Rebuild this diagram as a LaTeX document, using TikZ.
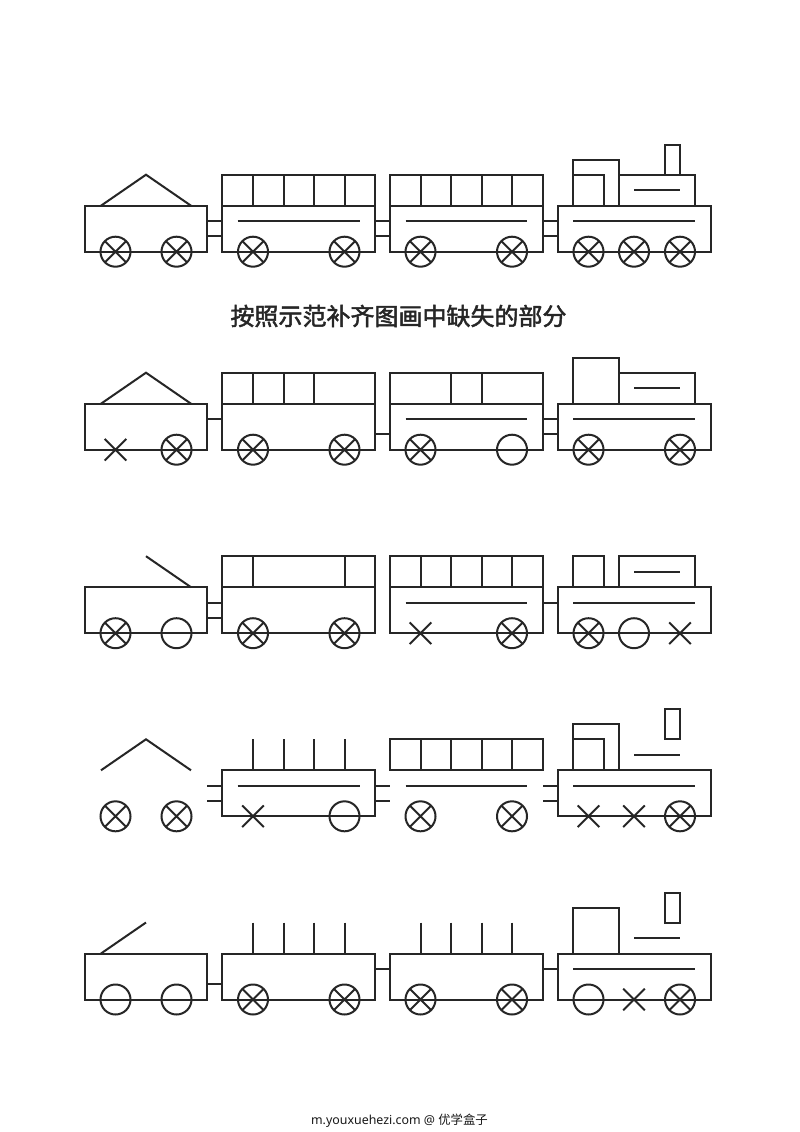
\documentclass[tikz,border=0pt]{standalone}
\usepackage{fontspec}
\setmainfont{Noto Sans}
\newfontfamily\cjk{Noto Sans CJK SC}
\newfontfamily\cjkt[FakeBold=2]{Noto Sans CJK SC}
\tikzset{
  ink/.style={draw=black!85,line width=2pt,line join=miter},
  rim/.style={draw=black!85,line width=2pt},
  titletext/.style={text=black!85,inner sep=0pt,font=\cjkt\fontsize{24}{26}\selectfont},
  foottext/.style={text=black!90,inner sep=0pt,font=\fontsize{12.4}{14}\selectfont}
}
% wheels: ring with cross, empty ring, bare cross (centre on the body's lower edge)
\newcommand{\wheelX}[1]{\draw[rim] (#1-10.8,35.2) -- (#1+10.8,56.8) (#1-10.8,56.8) -- (#1+10.8,35.2);}
\newcommand{\wheelO}[1]{\draw[rim] (#1,46) circle[radius=15];}
\newcommand{\wheelB}[1]{\wheelO{#1}\wheelX{#1}}
% body box, top row box, sticks
\newcommand{\body}[2]{\draw[ink] (#1,0) rectangle (#2,46);}
\newcommand{\toprow}[2]{\draw[ink] (#1,-31) rectangle (#2,0);}
\newcommand{\stick}[1]{\draw[ink] (#1,-31) -- (#1,0);}
\newcommand{\upperlink}[2]{\draw[ink] (#1,15.3) -- (#2,15.3);}
\newcommand{\lowerlink}[2]{\draw[ink] (#1,30.6) -- (#2,30.6);}
\newcommand{\bothlinks}[2]{\upperlink{#1}{#2}\lowerlink{#1}{#2}}
% locomotive parts
\newcommand{\locobody}{\draw[ink] (557.5,0) rectangle (711,46); \draw[ink] (573,15.3) -- (695,15.3);}
\newcommand{\cab}{\draw[ink] (573,0) -- (573,-46) -- (619,-46) -- (619,0);}
\newcommand{\innercab}{\draw[ink] (573,0) -- (573,-31) -- (604,-31) -- (604,0);}
\newcommand{\boilerline}{\draw[ink] (634,-15.3) -- (680,-15.3);}
\newcommand{\boiler}{\draw[ink] (619,-31) -- (695,-31) -- (695,0);}
\newcommand{\chimney}{\draw[ink] (665,-61) rectangle (680,-31);}
\begin{document}
\begin{tikzpicture}[x=1pt,y=-1pt]
\useasboundingbox[fill=white] (0,0) rectangle (800,1132);

% Row 1
\begin{scope}[shift={(0,205.7)}]
\body{85}{207}
\draw[ink] (101,0) -- (146,-31) -- (191,0);
\wheelB{115.5}\wheelB{176.5}
\bothlinks{207}{222}
\toprow{222}{375}\body{222}{375}
\stick{253}\stick{283.5}\stick{314}\stick{344.5}
\upperlink{237.5}{359.5}
\wheelB{253}\wheelB{344.5}
\bothlinks{375}{390}
\toprow{390}{543}\body{390}{543}
\stick{420.5}\stick{451}\stick{481.5}\stick{512}
\upperlink{405.5}{527}
\wheelB{420.5}\wheelB{512}
\bothlinks{543}{557.5}
\locobody\cab\innercab\boiler\boilerline\chimney
\wheelB{588.5}\wheelB{634}\wheelB{680}
\end{scope}

% Title
\node[titletext] (title) at (398.5,316) {按照示范补齐图画中缺失的部分};

% Row 2
\begin{scope}[shift={(0,403.7)}]
\body{85}{207}
\draw[ink] (101,0) -- (146,-31) -- (191,0);
\wheelX{115.5}\wheelB{176.5}
\upperlink{207}{222}
\toprow{222}{375}\body{222}{375}
\stick{253}\stick{283.5}\stick{314}
\wheelB{253}\wheelB{344.5}
\lowerlink{375}{390}
\toprow{390}{543}\body{390}{543}
\stick{451}\stick{481.5}
\upperlink{405.5}{527}
\wheelB{420.5}\wheelO{512}
\bothlinks{543}{557.5}
\locobody\cab\boiler\boilerline
\wheelB{588.5}\wheelB{680}
\end{scope}

% Row 3
\begin{scope}[shift={(0,587.2)}]
\body{85}{207}
\draw[ink] (146,-31) -- (191,0);
\wheelB{115.5}\wheelO{176.5}
\bothlinks{207}{222}
\toprow{222}{375}\body{222}{375}
\stick{253}\stick{344.5}
\wheelB{253}\wheelB{344.5}
\toprow{390}{543}\body{390}{543}
\stick{420.5}\stick{451}\stick{481.5}\stick{512}
\upperlink{405.5}{527}
\wheelX{420.5}\wheelB{512}
\upperlink{543}{557.5}
\locobody\innercab
\draw[ink] (619,0) -- (619,-31) -- (695,-31) -- (695,0);
\boilerline
\wheelB{588.5}\wheelO{634}\wheelX{680}
\end{scope}

% Row 4
\begin{scope}[shift={(0,770.3)}]
\draw[ink] (101,0) -- (146,-31) -- (191,0);
\wheelB{115.5}\wheelB{176.5}
\bothlinks{207}{222}
\body{222}{375}
\stick{253}\stick{283.5}\stick{314}\stick{344.5}
\upperlink{237.5}{359.5}
\wheelX{253}\wheelO{344.5}
\bothlinks{375}{390}
\toprow{390}{543}
\stick{420.5}\stick{451}\stick{481.5}\stick{512}
\upperlink{405.5}{527}
\wheelB{420.5}\wheelB{512}
\bothlinks{543}{557.5}
\locobody\cab\innercab\boilerline\chimney
\wheelX{588.5}\wheelX{634}\wheelB{680}
\end{scope}

% Row 5
\begin{scope}[shift={(0,953.5)}]
\body{85}{207}
\draw[ink] (101,0) -- (146,-31);
\wheelO{115.5}\wheelO{176.5}
\lowerlink{207}{222}
\body{222}{375}
\stick{253}\stick{283.5}\stick{314}\stick{344.5}
\wheelB{253}\wheelB{344.5}
\upperlink{375}{390}
\body{390}{543}
\stick{420.5}\stick{451}\stick{481.5}\stick{512}
\wheelB{420.5}\wheelB{512}
\upperlink{543}{557.5}
\locobody\cab\boilerline\chimney
\wheelO{588.5}\wheelX{634}\wheelB{680}
\end{scope}

% Footer
\node[foottext] (footer) at (399.5,1121) {m.youxuehezi.com @ {\cjk 优学盒子}};
\end{tikzpicture}
\end{document}
